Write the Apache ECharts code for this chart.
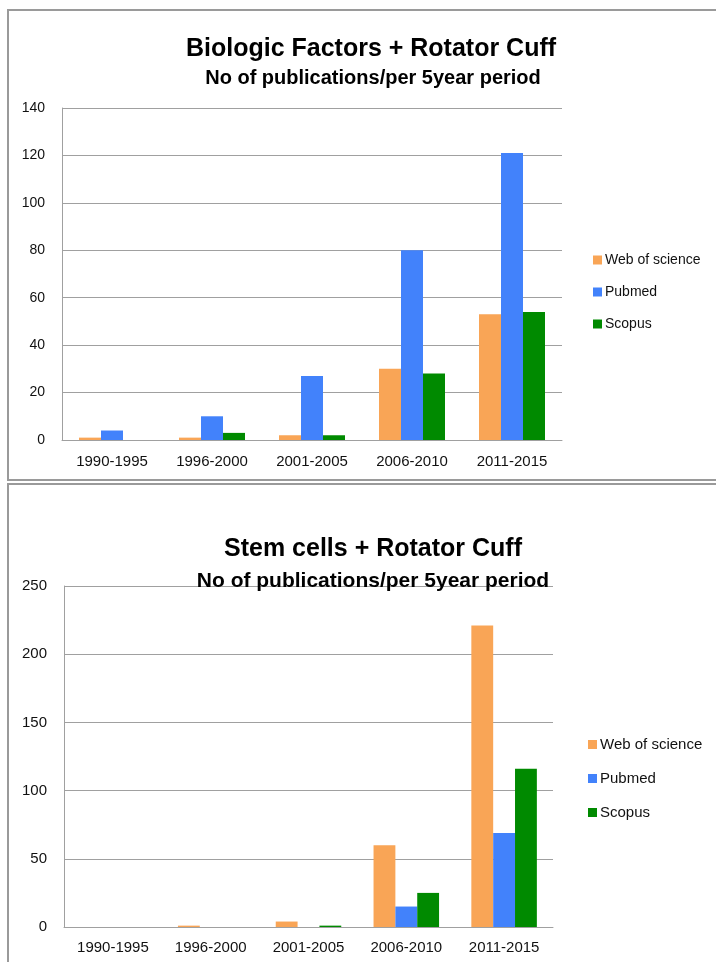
<!DOCTYPE html>
<html>
<head>
<meta charset="utf-8">
<style>
  html, body { margin: 0; padding: 0; background: #fff; }
  #chart { width: 716px; height: 962px; }
</style>
<script src="https://cdn.jsdelivr.net/npm/echarts@6/dist/echarts.min.js"></script>
</head>
<body>
<div id="chart"></div>
<script>
// Five-year periods shared by both panels
const periods = ['1990-1995', '1996-2000', '2001-2005', '2006-2010', '2011-2015'];
const sourceNames = ['Web of science', 'Pubmed', 'Scopus'];

// Panel 1: Biologic Factors + Rotator Cuff
const bioWebOfScience = [1, 1, 2, 30, 53];
const bioPubmed = [4, 10, 27, 80, 121];
const bioScopus = [0, 3, 2, 28, 54];
const bioTicks = [0, 20, 40, 60, 80, 100, 120, 140];

// Panel 2: Stem cells + Rotator Cuff
const stemWebOfScience = [0, 1, 4, 60, 221];
const stemPubmed = [0, 0, 0, 15, 69];
const stemScopus = [0, 0, 1, 25, 116];
const stemTicks = [0, 50, 100, 150, 200, 250];

const colors = ['#F9A556', '#4282FB', '#008A00'];
const FONT = '"Liberation Sans", Arial, sans-serif';
const gridColor = '#A0A0A0';

const chart = echarts.init(document.getElementById('chart'), null, { renderer: 'canvas' });

function yAxis(gridIndex, ticks, fontSize) {
  return {
    type: 'value',
    gridIndex: gridIndex,
    min: ticks[0],
    max: ticks[ticks.length - 1],
    interval: ticks[1] - ticks[0],
    axisLine: { show: true, lineStyle: { color: gridColor, width: 1 } },
    axisTick: { show: false },
    splitLine: { show: true, lineStyle: { color: gridColor, width: 1 } },
    axisLabel: { color: '#111', fontFamily: FONT, fontSize: fontSize, margin: 17 }
  };
}

function xAxis(gridIndex, fontSize, margin) {
  return {
    type: 'category',
    gridIndex: gridIndex,
    data: periods,
    axisLine: { show: true, lineStyle: { color: gridColor, width: 1 } },
    axisTick: { show: false },
    axisLabel: { color: '#111', fontFamily: FONT, fontSize: fontSize, margin: margin, interval: 0 }
  };
}

function barSeries(name, data, idx, axisIndex, gap) {
  return {
    name: name,
    type: 'bar',
    xAxisIndex: axisIndex,
    yAxisIndex: axisIndex,
    data: data,
    barGap: '0%',
    barCategoryGap: gap,
    itemStyle: { color: colors[idx] },
    emphasis: { disabled: true },
    animation: false
  };
}

function legend(top, left, fontSize, gap) {
  return {
    orient: 'vertical',
    left: left,
    top: top,
    itemWidth: 9,
    itemHeight: 9,
    itemGap: gap,
    icon: 'rect',
    data: sourceNames,
    textStyle: { color: '#111', fontFamily: FONT, fontSize: fontSize, padding: [0, 0, 0, -2] }
  };
}

const option = {
  backgroundColor: '#fff',
  animation: false,
  title: [
    { text: 'Biologic Factors + Rotator Cuff', left: 366, top: 32, textAlign: 'center',
      textStyle: { fontFamily: FONT, fontWeight: 'bold', fontSize: 25, color: '#000' } },
    { text: 'No of publications/per 5year period', left: 368, top: 63, textAlign: 'center',
      textStyle: { fontFamily: FONT, fontWeight: 'bold', fontSize: 20, color: '#000' } },
    { text: 'Stem cells + Rotator Cuff', left: 368, top: 532, textAlign: 'center',
      textStyle: { fontFamily: FONT, fontWeight: 'bold', fontSize: 25, color: '#000' } },
    { text: 'No of publications/per 5year period', left: 368, top: 566, textAlign: 'center',
      textStyle: { fontFamily: FONT, fontWeight: 'bold', fontSize: 21, color: '#000' } }
  ],
  graphic: [
    { type: 'rect', shape: { x: 8, y: 10, width: 740, height: 470 }, silent: true,
      style: { fill: 'none', stroke: '#9A9A9A', lineWidth: 2 } },
    { type: 'rect', shape: { x: 8, y: 484, width: 740, height: 500 }, silent: true,
      style: { fill: 'none', stroke: '#9A9A9A', lineWidth: 2 } }
  ],
  legend: [
    legend(248, 588, 14, 18),
    legend(732, 583, 15, 19)
  ],
  grid: [
    { left: 62, right: 154, top: 108, bottom: 522 },
    { left: 64, right: 163, top: 586, bottom: 35 }
  ],
  xAxis: [xAxis(0, 15, 14), xAxis(1, 15, 13)],
  yAxis: [yAxis(0, bioTicks, 14), yAxis(1, stemTicks, 15)],
  series: [
    barSeries(sourceNames[0], bioWebOfScience, 0, 0, '34%'),
    barSeries(sourceNames[1], bioPubmed, 1, 0, '34%'),
    barSeries(sourceNames[2], bioScopus, 2, 0, '34%'),
    barSeries(sourceNames[0], stemWebOfScience, 0, 1, '33%'),
    barSeries(sourceNames[1], stemPubmed, 1, 1, '33%'),
    barSeries(sourceNames[2], stemScopus, 2, 1, '33%')
  ]
};

chart.setOption(option);
</script>
</body>
</html>
